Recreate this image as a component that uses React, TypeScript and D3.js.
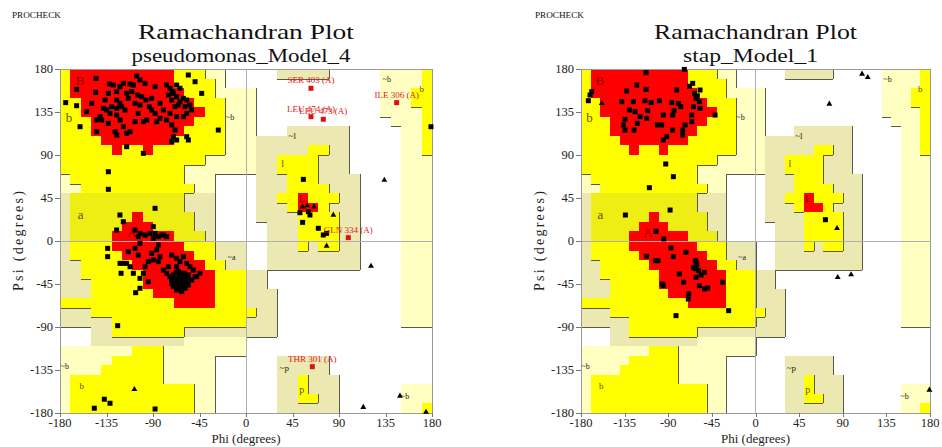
import React from "react";
import * as d3 from "d3";

// Region map, 10 degree cells: row 0 is psi 180..170, column 0 is phi -180..-170
// R core, Y allowed, y allowed (a band), K / P generously allowed, . disallowed
const REGION_ROWS = [
  "YRRRRRRRRRRYYYPP.....KKKKK.....PPPPY",
  "YRRRRRRRRRRYYYYP...............PPPPY",
  "YRRRRRRRRRRRYYYPPPP............PPPYY",
  "YYRRRRRRRRRRRYYYPPP............PPPYY",
  "YYRRRRRRRRRRRRYYPPP............PPPPY",
  "YYYRRRRRRRRRRYYYPPP.............PPPY",
  "YYYRRRRRRRRRYYYYPPP...KKKKKK.....PPY",
  "YYYYRRRRRRRYYYYYPPPKKKKKKKKK.....PPY",
  "YYYYYRYYRYYYYYYYPPPKKKKKYYKK.....PPY",
  "YYYYYYYYYYYYYYPPPPPKKYYYYKKK.....PPP",
  "YYYYYYYYYYYYPPPPPPPKKYYYYKKK.....PPP",
  "PYYYYYYYYYYYPPP....KKKYYYKKKK....PPP",
  "PPYYYYYYYYYYYPP....KKKYYYYKKK....PPP",
  "KyyyyyyyyyyyKKK....KKYYRYYYKK....PPP",
  "KyyyyyyyyyyyKKK....KKKYRRYKKK....PPP",
  "KyyyyyyRyyyyyKK....KKKKYYYYKK....PPP",
  "KyyyyyRRRyyyyKK.....KKKYYYYKK....PPP",
  "KyyyyRRRRRRyyyK.....KKKYYYYKK....PPP",
  "KYYYYRRRRRRRYYYKKK..KKKYKYYKK....PPP",
  "KYYYYYRRRRRRRYYKKK..KKKKKKKKK....PPP",
  "KKYYYYYRRRRRRRYYKK..KKKKKKKKK....PPP",
  "KKYYYYYYRRRRRRRYYYKK.............PPP",
  "KKKYYYYYRRRRRRRYYYKK.............PPP",
  "KKKYYYYYYRRRRRRYYYKKK............PPP",
  "YYYYYYYYYYYRRRRYYYKKK............PPP",
  "KKKYYYYYYYYYYYYYYYYKK............PPP",
  "KKKKKYYYYYYYYYYYYYKKK............PPP",
  "...KKYYYYYYYKKKKKKKKK...............",
  "...KKKKKKKKKPPPPPP..................",
  "PPPPPPPYYYPPPPPPPP..................",
  "PPPPPYYYYYPPPPP......KKKKK..........",
  "PPPPYYYYYYPPPPP......KKKKK..........",
  "PYYYYYYYYYPPPPP......KKYKKK.........",
  "PYYYYYYYYYYYYPP......KKYKKK......PPP",
  "PYYYYYYYYYYYYPP......KKYYKK......PPP",
  "PYYYYYYYYYYYYPP......KKKKKK......PPY",
];

const FILL = { R: "#ff0000", Y: "#ffff00", y: "#eeee14", K: "#ece8b2", P: "#ffffc2", ".": "#ffffff" };
const LEVEL = { R: 3, Y: 2, y: 2, K: 1, P: 1, ".": 0 };

const TICKS = [-180, -135, -90, -45, 0, 45, 90, 135, 180];

// Region labels [text, phi, psi, size, colour]
const REGION_LABELS = [
  ["B", -160.6, 168.5, 13, "#8a0000"],
  ["b", -171.3, 129.5, 13, "#5b5200"],
  ["~b", -15.5, 129.5, 8, "#222"],
  ["A", -110.6, 9.1, 13, "#8a0000"],
  ["a", -160, 28.3, 13, "#5b5200"],
  ["~a", -13.8, -17, 8, "#222"],
  ["~l", 44.8, 110.2, 9, "#222"],
  ["l", 35.5, 80.6, 10, "#5b5200"],
  ["L", 53.9, 44, 10, "#8a0000"],
  ["~b", 136.2, 169.5, 8, "#222"],
  ["b", 170, 159, 9, "#5b5200"],
  ["~b", -175.2, -130.5, 8, "#222"],
  ["b", -159, -151.4, 9, "#5b5200"],
  ["~p", 37, -132.9, 9, "#222"],
  ["p", 53.9, -154.9, 10, "#5b5200"],
  ["~b", 153.9, -161.9, 8, "#222"],
];

// ---- pseudomonas_Model_4 ----
const LEFT_RESIDUES = [
  [-145.1, 170.2], [-132.2, 164.3], [-163.9, 158.7], [-174.5, 144.8], [-163.9, 141.6], [-160.6, 119.6],
  [-154.2, 135.3], [-145.5, 155.6], [-149.3, 144.1], [-141.3, 130.1], [-136.4, 147.5], [-133.2, 154.5],
  [-128.4, 163.2], [-125.1, 156.3], [-121.9, 161.5], [-118.7, 165], [-115.5, 154.5], [-112.2, 164.3],
  [-110.6, 156.3], [-107.4, 144.1], [-104.2, 133.6], [-121.9, 144.1], [-125.1, 147.5], [-125.1, 138.8],
  [-120.3, 140.6], [-117.1, 137.1], [-113.9, 149.3], [-130, 140.6], [-134.8, 137.1], [-138.1, 138.8],
  [-131.6, 133.6], [-125.1, 131.8], [-121.9, 126.6], [-118.7, 119.6], [-115.5, 112.7], [-112.2, 114.4],
  [-126.8, 114.4], [-125.1, 110.9], [-144.5, 114.4], [-139.7, 126.6], [-133.2, 123.1], [-144.5, 126.6],
  [-115.5, 98.7], [-99.3, 91.7], [-107.4, 124.9], [-99.3, 124.9], [-96.1, 126.6], [-102.6, 142.3],
  [-97.7, 165], [-91.3, 149.3], [-88, 161.5], [-83.2, 144.1], [-80, 137.1], [-76.8, 163.2],
  [-75.1, 152.8], [-73.5, 159.8], [-71.9, 147.5], [-70.3, 154.5], [-67.1, 151], [-68.7, 140.6],
  [-65.5, 142.3], [-63.9, 145.8], [-60.6, 149.3], [-59, 140.6], [-57.4, 147.5], [-54.2, 142.3],
  [-52.6, 137.1], [-57.4, 133.6], [-60.6, 130.1], [-67.1, 130.1], [-73.5, 133.6], [-76.8, 126.6],
  [-83.2, 128.4], [-86.4, 124.9], [-71.9, 121.4], [-68.7, 116.1], [-70.3, 109.2], [-67.1, 105.7],
  [-71.9, 103.9], [-57.4, 109.2], [-55.8, 105.7], [-55.8, 173.7], [-49.3, 166.7], [-42.9, 154.5],
  [-63.9, 159.8], [-67.1, 163.2], [-71, 156.3], [-91.3, 137.1], [-88, 133.6], [-93.5, 140.6],
  [-96.8, 147.5], [-101, 151], [-105.1, 152.8], [-109, 163.2], [-102.6, 168.5], [-105.8, 172.7],
  [-26.8, 116.1], [-133.2, 72.5], [-133.2, 54.1], [-88, 34.2], [-122, 27.2], [-118.7, 20.2],
  [-125.2, 11.5],
  [-133.9, -7.7], [-133.9, -16.4], [-120.9, -33.8], [-121.9, -23.4], [-118.7, -23.4], [-115.5, -23.4],
  [-113.9, -11.2], [-107.4, -7.7], [-102.6, -2.5], [-97.7, 6.3], [-92.9, 8], [-89.7, 2.8],
  [-84.8, -4.2], [-81.6, 6.3], [-76.8, 4.5], [-71.9, -14.7], [-67.1, -18.1], [-63.9, -21.6],
  [-60.6, -16.4], [-57.4, -23.4], [-54.2, -26.9], [-51, -30.4], [-47.7, -37.3], [-84.8, -21.6],
  [-89.7, -19.9], [-80, -30.4], [-76.8, -33.8], [-73.5, -37.3], [-71.9, -44.3], [-70.3, -47.8],
  [-67.1, -51.3], [-62.2, -53], [-59, -49.5], [-55.8, -46.1], [-52.6, -40.8], [-49.3, -37.3],
  [-44.5, -33.8], [-67.1, -26.9], [-65.5, -32.1], [-62.2, -33.8], [-60.6, -37.3], [-59, -40.8],
  [-57.4, -42.6], [-63.9, -40.8], [-67.1, -39.1], [-70.3, -35.6], [-68.7, -44.3], [-65.5, -46.1],
  [-62.2, -44.3], [-60.6, -47.8], [-57.4, -39.1], [-63.9, -47.8], [-67.1, -42.6], [-71.9, -40.8],
  [-75.1, -26.9], [-83.2, -16.4], [-86.4, -9.4], [-91.3, -12.9], [-94.5, -21.6], [-97.7, -26.9],
  [-99.3, -33.8], [-102.6, -39.1], [-106.8, -54.1], [-102.6, -49.5], [-94.5, -42.6], [-104.2, -14.7],
  [-112.2, -26.9], [-109, -33.8], [-64.5, -36.6], [-61.3, -40.1], [-63.2, -43.6], [-66.4, -40.8],
  [-60, -43.6], [-67.7, -33.1], [-55.8, -35.6], [-69.7, -40.1], [-65.1, -49.5], [-59.7, -33.8],
  [-107.4, 11.5], [-102.6, 8], [-97.7, 6.3], [-88, 8], [-84.8, 4.5], [-104.2, 4.5], [-89.7, 15], [-80, 6.3],
  [179, 119.6], [55.5, 64.5], [52.2, 29.6], [60.3, 30.7], [61.9, 27.2], [54.8, 19.5], [70, 13.3],
  [74.8, 6.3], [78, 8], [-146.8, -175], [-137.1, -165.6], [-131.6, -169.8], [-88, -175.8], [-124.2, -88.6],
];
const LEFT_GLYCINES = [
  [54.8, 35.9], [59.3, 37], [65.8, 35.9], [84.5, 27.2], [78, -5.2], [133.9, 63.8], [121, -26.2],
  [113.5, -174], [149, -162.2], [174.2, -179], [-108, -155.2],
];
const LEFT_FLAGGED = [
  ["SER 403 (A)", 62.9, 159.8],
  ["LEU 474 (A)", 62.9, 130.1],
  ["LEU 473 (A)", 74.8, 127.4],
  ["ILE 306 (A)", 145.8, 144.8],
  ["GLN 334 (A)", 99, 3.5],
  ["THR 301 (A)", 64.2, -131.5],
];

// ---- stap_Model_1 ----
const RIGHT_RESIDUES = [
  [-112.9, 176.1], [-73.4, 179.6], [-172.4, 146.8], [-170.7, 152.8], [-169, 156.3], [-132.9, 157],
  [-122.5, 163.2], [-112.9, 158.7], [-138, 145.8], [-126, 145.8], [-114, 146.8], [-107.7, 144.8],
  [-99.2, 146.8], [-86.4, 144.8], [-81.3, 158], [-79.6, 144], [-77.1, 140.6], [-64.8, 165],
  [-63, 154.5], [-61.3, 149.3], [-57.2, 158], [-57.9, 145.8], [-64, 140.6], [-57.2, 138.8],
  [-65.8, 131.8], [-65.8, 124.9], [-72.7, 121.4], [-75.1, 116.1], [-75.1, 110.9], [-85.5, 116.1],
  [-91.6, 109.2], [-95.1, 105.7], [-101.2, 121.4], [-96.8, 121.4], [-112.2, 128.4], [-119.1, 130.1],
  [-121.9, 123.1], [-125.3, 116.1], [-134.6, 127.3], [-136.3, 121.4], [-134.6, 116.1], [-130.1, 137.1],
  [-124.3, 135.3], [-111.2, 136.4], [-95.1, 131.8], [-84, 136.4], [-85.3, 131.8], [-41.7, 131.8],
  [-60, 152], [-68, 162],
  [-92.6, 80.6], [-84.7, 67.3], [-109.5, 55.8], [-88.1, 32.4], [-134.2, 27.2],
  [-102.6, 10.1], [-94.7, 2.1], [-87.2, -7.3], [-112.3, -16], [-103.3, -20.6], [-100.5, -20.6],
  [-84.8, -16.4], [-71.7, -11.8], [-62, -20.6], [-60.5, -25], [-61, -22.5], [-64.1, -27.5],
  [-78.6, -34.5], [-74.1, -43.2], [-61.4, -38], [-56.2, -35.6], [-52.8, -32.8], [-96.4, -45],
  [-95.1, -46.8], [-68.9, -55.4], [-69.3, -60.7], [-57.9, -46.7], [-52.6, -50.2], [-49.3, -49.2],
  [-33.8, -43.2], [-27.7, -72.9], [-82, -78.1], [-62.5, -29], [-59, -31],
  [72.1, 22.3],
];
const RIGHT_GLYCINES = [
  [109.9, 174.8], [115.8, 171.3], [76.2, 143.4], [84.8, -38], [98.6, -35.2], [179.4, -155.9],
  [84.1, 13.2], [-158.6, 144],
];
const RIGHT_FLAGGED = [];

const SERIF = "'Liberation Serif', 'DejaVu Serif', serif";

function RamaPanel({ left, right, top, bottom, title, subtitle, titleW, subW, residues, glycines, flagged }) {
  const x = d3.scaleLinear().domain([-180, 180]).range([left, right]);
  const y = d3.scaleLinear().domain([180, -180]).range([top, bottom]);
  const cx = (left + right) / 2;
  const cy = (top + bottom) / 2;

  // cell edges, rounded so the cells tile without seams
  const colEdge = (c) => Math.round(x(-180 + 10 * c));
  const rowEdge = (r) => Math.round(y(180 - 10 * r));
  const level = (r, c) => LEVEL[REGION_ROWS[r][c]];

  const cells = [];
  const edges = [];
  REGION_ROWS.forEach((row, r) => {
    row.split("").forEach((ch, c) => {
      if (ch !== ".") {
        cells.push(
          <rect key={`c${r}-${c}`} x={colEdge(c)} y={rowEdge(r)}
            width={colEdge(c + 1) - colEdge(c)} height={rowEdge(r + 1) - rowEdge(r)} fill={FILL[ch]} />
        );
      }
      // PROCHECK draws its boundary strokes on the right / lower side of a region
      const lv = level(r, c);
      if (lv === 1 || lv === 2) {
        if (c < 35 && level(r, c + 1) < lv) {
          edges.push([colEdge(c + 1), rowEdge(r), colEdge(c + 1), rowEdge(r + 1)]);
        }
        if (r < 35 && level(r + 1, c) < lv) {
          edges.push([colEdge(c), rowEdge(r + 1), colEdge(c + 1), rowEdge(r + 1)]);
        }
      }
    });
  });

  const tri = d3.symbol(d3.symbolTriangle).size(15)();

  return (
    <g fontFamily={SERIF}>
      <text x={cx} y={39} textAnchor="middle" fontSize={22} fill="#111" textLength={titleW} lengthAdjust="spacingAndGlyphs">{title}</text>
      <text x={cx - 5} y={62} textAnchor="middle" fontSize={19} fill="#111" textLength={subW} lengthAdjust="spacingAndGlyphs">{subtitle}</text>

      <g shapeRendering="crispEdges">
        {cells}
        {edges.map((e, i) => (
          <line key={`e${i}`} x1={e[0]} y1={e[1]} x2={e[2]} y2={e[3]} stroke="#5a5a4a" strokeWidth={1} />
        ))}
        <line x1={x(0)} x2={x(0)} y1={top} y2={bottom} stroke="#b0b0b0" />
        <line x1={left} x2={right} y1={y(0)} y2={y(0)} stroke="#b0b0b0" />
        <rect x={left} y={top} width={right - left} height={bottom - top} fill="none" stroke="#9a9a9a" />
        {TICKS.map((t) => (
          <g key={`t${t}`}>
            <line x1={left - 5} x2={left} y1={Math.round(y(t))} y2={Math.round(y(t))} stroke="#777" />
            <line x1={Math.round(x(t))} x2={Math.round(x(t))} y1={bottom} y2={bottom + 4} stroke="#777" />
          </g>
        ))}
      </g>

      {TICKS.map((t) => (
        <g key={`l${t}`} fontSize={12.5} fill="#222">
          <text x={left - 7} y={y(t)} dy="0.35em" textAnchor="end">{t}</text>
          <text x={x(t)} y={bottom + 14} textAnchor="middle">{t}</text>
        </g>
      ))}

      {REGION_LABELS.map(([t, phi, psi, size, col], i) => (
        <text key={`r${i}`} x={x(phi)} y={y(psi)} dy="0.35em" textAnchor="middle" fontSize={size} fill={col}>{t}</text>
      ))}

      {residues.map(([phi, psi], i) => (
        <rect key={`p${i}`} x={x(phi) - 2.5} y={y(psi) - 2.5} width={5} height={5} fill="#000" />
      ))}
      {glycines.map(([phi, psi], i) => (
        <path key={`g${i}`} d={tri} transform={`translate(${x(phi)},${y(psi)})`} fill="#000" />
      ))}
      {flagged.map(([name, phi, psi], i) => (
        <g key={`f${i}`}>
          <rect x={x(phi) - 2.5} y={y(psi) - 2.5} width={5} height={5} fill="#e01010" />
          <text x={x(phi)} y={y(psi) - 5} textAnchor="middle" fontSize={9} fill="#e02020">{name}</text>
        </g>
      ))}

      <text x={cx} y={443} textAnchor="middle" fontSize={13} fill="#222">Phi (degrees)</text>
      <text transform={`translate(${left - 37},${cy}) rotate(-90)`} textAnchor="middle" fontSize={14} fill="#222"
        textLength={100} lengthAdjust="spacing">Psi (degrees)</text>
    </g>
  );
}

export default function App() {
  return (
    <svg width={942} height={447} style={{ position: "absolute", left: 0, top: 0, background: "#fff" }}>
      <text x={12} y={18} fontFamily={SERIF} fontSize={7.5} fill="#111" textLength={49} lengthAdjust="spacingAndGlyphs">PROCHECK</text>
      <text x={535} y={18} fontFamily={SERIF} fontSize={7.5} fill="#111" textLength={49} lengthAdjust="spacingAndGlyphs">PROCHECK</text>
      <RamaPanel left={60} right={432} top={69} bottom={413}
        title="Ramachandran Plot" subtitle="pseudomonas_Model_4" titleW={216} subW={219}
        residues={LEFT_RESIDUES} glycines={LEFT_GLYCINES} flagged={LEFT_FLAGGED} />
      <RamaPanel left={581} right={930} top={69} bottom={413}
        title="Ramachandran Plot" subtitle="stap_Model_1" titleW={203} subW={135}
        residues={RIGHT_RESIDUES} glycines={RIGHT_GLYCINES} flagged={RIGHT_FLAGGED} />
    </svg>
  );
}
